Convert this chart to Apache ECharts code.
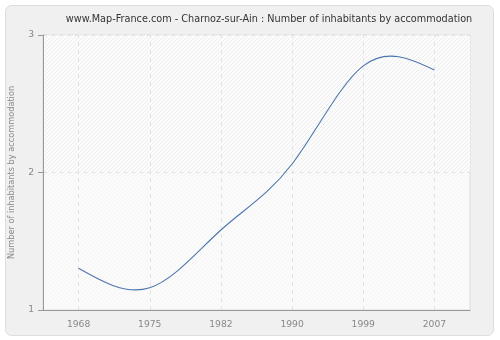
<!DOCTYPE html>
<html>
<head>
<meta charset="utf-8">
<script src="https://cdn.jsdelivr.net/npm/echarts@6/dist/echarts.min.js"></script>
<style>
  html, body { margin: 0; padding: 0; background: #ffffff; }
  #chart { width: 500px; height: 340px; }
</style>
</head>
<body>
<div id="chart"></div>
<script>
// Census years and average inhabitants per dwelling
const years = ['1968', '1975', '1982', '1990', '1999', '2007'];
const inhabitants = [1.303, 1.162, 1.582, 2.062, 2.775, 2.745];
const yTicks = [1, 2, 3];

// Diagonal hatch tile for plot backgrounds
function hatchPattern(bg, stroke) {
  const n = 4;
  const c = document.createElement('canvas');
  c.width = n; c.height = n;
  const g = c.getContext('2d');
  g.fillStyle = bg;
  g.fillRect(0, 0, n, n);
  g.strokeStyle = stroke;
  g.lineWidth = 1;
  g.beginPath();
  g.moveTo(0, n); g.lineTo(n, 0);
  g.moveTo(-1, 1); g.lineTo(1, -1);
  g.moveTo(n - 1, n + 1); g.lineTo(n + 1, n - 1);
  g.stroke();
  return { image: c, repeat: 'repeat' };
}

// Natural cubic spline through pixel points, returned as SVG path data
function splinePath(pts) {
  const n = pts.length;
  const h = pts[1][0] - pts[0][0];
  const M = new Array(n).fill(0);
  if (n > 2) {
    const m = n - 2;
    const d = [];
    for (let i = 1; i <= m; i++) {
      d.push(6 * (pts[i + 1][1] - 2 * pts[i][1] + pts[i - 1][1]) / (h * h));
    }
    const cp = [], dp = [];
    for (let i = 0; i < m; i++) {
      const denom = 4 - (i > 0 ? cp[i - 1] : 0);
      cp.push(1 / denom);
      dp.push((d[i] - (i > 0 ? dp[i - 1] : 0)) / denom);
    }
    const sol = new Array(m);
    for (let i = m - 1; i >= 0; i--) {
      sol[i] = dp[i] - (i < m - 1 ? cp[i] * sol[i + 1] : 0);
    }
    for (let i = 0; i < m; i++) M[i + 1] = sol[i];
  }
  let p = 'M' + pts[0][0] + ' ' + pts[0][1];
  for (let i = 0; i < n - 1; i++) {
    const [x0, y0] = pts[i], [x1, y1] = pts[i + 1];
    const hh = x1 - x0;
    const s = (y1 - y0) / hh;
    const d0 = s - hh * (2 * M[i] + M[i + 1]) / 6;
    const d1 = s + hh * (M[i] + 2 * M[i + 1]) / 6;
    p += ' C' + (x0 + hh / 3) + ' ' + (y0 + d0 * hh / 3) + ' ' +
         (x1 - hh / 3) + ' ' + (y1 - d1 * hh / 3) + ' ' + x1 + ' ' + y1;
  }
  return p;
}

const axisFont = 'DejaVu Sans';
const chart = echarts.init(document.getElementById('chart'), null, { renderer: 'canvas' });
chart.setOption({
  animation: false,
  backgroundColor: '#ffffff',
  graphic: [{
    type: 'rect',
    left: 5, top: 5,
    shape: { width: 488, height: 330, r: 6 },
    style: { fill: '#f0f0f0', stroke: '#dddddd', lineWidth: 1 },
    z: -10
  }],
  title: {
    text: 'www.Map-France.com - Charnoz-sur-Ain : Number of inhabitants by accommodation',
    left: 264, top: 9, textAlign: 'center',
    textStyle: { fontFamily: axisFont, fontSize: 9.7, fontWeight: 'normal', color: '#333333' }
  },
  grid: {
    left: 40, right: 30, top: 35, bottom: 30,
    show: true,
    backgroundColor: hatchPattern('#fbfbfb', '#f5f5f5'),
    borderColor: '#dddddd', borderWidth: 1
  },
  xAxis: {
    type: 'category',
    data: years,
    boundaryGap: true,
    z: 10,
    axisLine: { lineStyle: { color: '#999999' } },
    axisTick: { alignWithLabel: true, length: 5, lineStyle: { color: '#999999' } },
    axisLabel: { color: '#888888', fontFamily: axisFont, fontSize: 9.2, margin: 10 },
    splitLine: { show: false }
  },
  yAxis: {
    type: 'value',
    min: yTicks[0], max: yTicks[yTicks.length - 1], interval: 1,
    z: 10,
    name: 'Number of inhabitants by accommodation',
    nameLocation: 'middle', nameGap: 27,
    nameTextStyle: { color: '#888888', fontFamily: axisFont, fontSize: 8.2 },
    axisLine: { show: true, lineStyle: { color: '#999999' } },
    axisTick: { show: true, length: 5, lineStyle: { color: '#999999' } },
    axisLabel: { color: '#888888', fontFamily: axisFont, fontSize: 9.2, margin: 9 },
    splitLine: { show: true, lineStyle: { color: '#e2e2e2', type: [4, 4] } }
  },
  series: [{
    // carries the vertical grid lines and the shaded upper band
    type: 'line',
    data: inhabitants,
    symbol: 'none',
    lineStyle: { opacity: 0 },
    silent: true,
    markArea: {
      silent: true,
      itemStyle: { color: hatchPattern('#fcfcfc', '#ededed') },
      data: [[{ yAxis: 2 }, { yAxis: 3 }]]
    },
    markLine: {
      silent: true,
      symbol: 'none',
      label: { show: false },
      lineStyle: { color: '#e2e2e2', type: [4, 4], width: 1 },
      data: years.map(y => ({ xAxis: y }))
    },
    z: 1
  }, {
    type: 'custom',
    data: inhabitants.map((v, i) => [i, v]),
    encode: { x: 0, y: 1 },
    renderItem: function (params, api) {
      if (params.dataIndex !== 0) return null;
      const pts = inhabitants.map((v, i) => api.coord([i, v]));
      return {
        type: 'path',
        shape: { pathData: splinePath(pts) },
        style: { fill: 'none', stroke: '#4d77ad', lineWidth: 1.1 }
      };
    },
    z: 20
  }]
});
</script>
</body>
</html>
